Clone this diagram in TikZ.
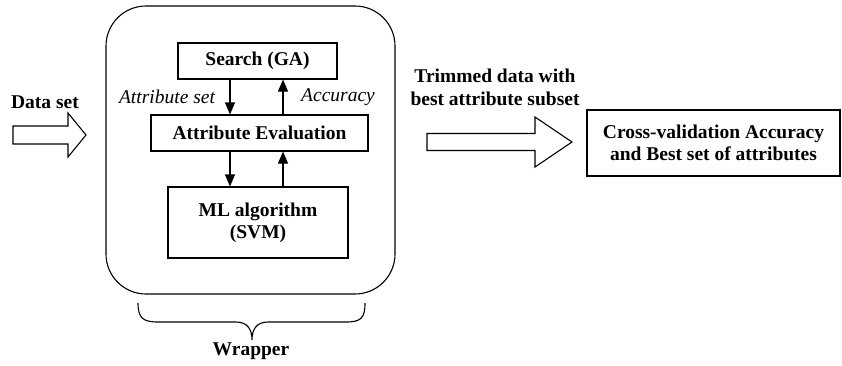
\documentclass[tikz,border=0pt]{standalone}
\usepackage{fontspec}
\setmainfont{Liberation Serif}
\usetikzlibrary{arrows.meta}
\begin{document}
\begin{tikzpicture}[x=1pt,y=-1pt, line width=1.1pt,
 box/.style={draw, inner sep=0pt, align=center, font=\fontsize{19.5}{22}\selectfont\bfseries},
 lbl/.style={inner sep=0pt, align=center, font=\fontsize{19.5}{23}\selectfont\bfseries},
 ital/.style={inner sep=0pt, font=\fontsize{19.5}{22}\selectfont\itshape},
 arr/.style={-{Triangle[length=12pt,width=10pt]}},
 blockarrow/.style={draw, line width=1.1pt, fill=white}]
\useasboundingbox (0,0) rectangle (842,365);
% outer wrapper
\node[draw, rounded corners=40pt, minimum width=289pt, minimum height=288pt] (wrap) at (250.5,150) {};
% inner boxes
\node[box, minimum width=159pt, minimum height=36pt] (search) at (257.5,61) {Search (GA)};
\node[box, minimum width=217pt, minimum height=36pt] (ae) at (259.5,133) {Attribute Evaluation};
\node[box, minimum width=180pt, minimum height=71pt] (ml) at (258,222.5) {ML algorithm\\(SVM)};
\coordinate (dn) at (230,0);
\coordinate (up) at (283,0);
\draw[arr] (search.south -| dn) -- (ae.north -| dn);
\draw[arr] (ae.north -| up) -- (search.south -| up);
\draw[arr] (ae.south -| dn) -- (ml.north -| dn);
\draw[arr] (ml.north -| up) -- (ae.south -| up);
\node[ital] (lset) at (167,97) {Attribute set};
\node[ital] (lacc) at (338,97) {Accuracy};
% brace
\draw (138,303) .. controls (138,318) and (143,322) .. (158,322) -- (236,322)
  .. controls (248,322) and (252,330) .. (252,340)
  .. controls (252,330) and (256,322) .. (268,322) -- (346,322)
  .. controls (361,322) and (365,318) .. (365,303);
\node[lbl] (wrapper) at (251,351) {Wrapper};
% data set input
\node[lbl] (data) at (45,102) {Data set};
\draw[blockarrow] (13,126) -- (68,126) -- (68,113) -- (86,135) -- (68,157) -- (68,144) -- (13,144) -- cycle;
% output arrow
\node[lbl] (trim) at (495,87) {Trimmed data with\\best attribute subset};
\draw[blockarrow] (427,133.5) -- (535,133.5) -- (535,117) -- (572,142) -- (535,167) -- (535,150.5) -- (427,150.5) -- cycle;
% result
\node[box, minimum width=253pt, minimum height=66pt] (res) at (713.5,143) {Cross-validation Accuracy\\and Best set of attributes};
\end{tikzpicture}
\end{document}
